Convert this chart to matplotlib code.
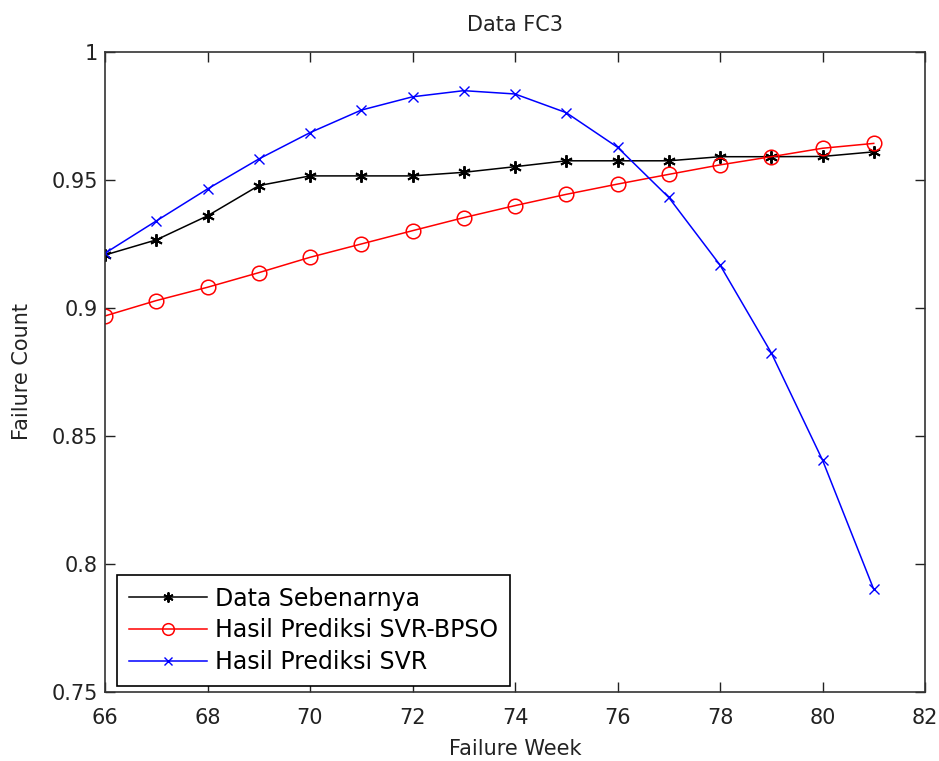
import matplotlib
matplotlib.use("Agg")
import matplotlib.pyplot as plt

weeks = [66, 67, 68, 69, 70, 71, 72, 73, 74, 75, 76, 77, 78, 79, 80, 81]
actual = [0.9207, 0.9266, 0.9360, 0.9478, 0.9516, 0.9516, 0.9516, 0.9530, 0.9552,
          0.9575, 0.9575, 0.9575, 0.9591, 0.9591, 0.9592, 0.9610]
svr_bpso = [0.8969, 0.9029, 0.9081, 0.9138, 0.9198, 0.9250, 0.9302, 0.9353, 0.9400,
            0.9444, 0.9484, 0.9522, 0.9559, 0.9591, 0.9624, 0.9643]
svr = [0.9214, 0.9340, 0.9465, 0.9582, 0.9685, 0.9773, 0.9825, 0.9849, 0.9836,
       0.9763, 0.9628, 0.9432, 0.9168, 0.8825, 0.8406, 0.7901]

labels = ["Data Sebenarnya", "Hasil Prediksi SVR-BPSO", "Hasil Prediksi SVR"]
xticks = [66, 68, 70, 72, 74, 76, 78, 80, 82]
yticks = [0.75, 0.8, 0.85, 0.9, 0.95, 1.0]
yticklabels = ["0.75", "0.8", "0.85", "0.9", "0.95", "1"]

plt.rcParams['font.family'] = ['DejaVu Sans']
fs = 15

fig = plt.figure(figsize=(9.39, 7.61), dpi=100)
ax = fig.add_axes([105/939, 1-692/761, 820/939, 640/761])

ax.plot(weeks, actual, color='black', lw=1.1, marker=(6, 2, 0), markersize=9,
        markeredgewidth=1.4, label=labels[0])
ax.plot(weeks, svr_bpso, color='red', lw=1.1, marker='o', markersize=10.5,
        markerfacecolor='none', markeredgewidth=1.1, label=labels[1])
ax.plot(weeks, svr, color='blue', lw=1.1, marker='x', markersize=6.5,
        markeredgewidth=1.0, label=labels[2])

ax.set_xlim(66, 82)
ax.set_ylim(0.75, 1.0)
ax.set_xticks(xticks)
ax.set_xticklabels([str(t) for t in xticks], fontsize=fs)
ax.set_yticks(yticks)
ax.set_yticklabels(yticklabels, fontsize=fs)
ax.tick_params(direction='in', length=7, width=1.0, top=True, right=True,
               colors='#222222', labelcolor='#222222', pad=5)
ax.tick_params(axis='x', pad=11.5)
for s in ax.spines.values():
    s.set_color('#333333')
    s.set_linewidth(1.2)

ax.set_title("Data FC3", fontsize=fs, color='#222222', pad=15)
ax.set_xlabel("Failure Week", fontsize=fs, color='#222222', labelpad=8)
ax.set_ylabel("Failure Count", fontsize=fs, color='#222222', labelpad=14)

leg = ax.legend(loc='lower left', bbox_to_anchor=(12/820, 6/640), borderaxespad=0,
                fontsize=17, handlelength=3.3, frameon=True, fancybox=False,
                edgecolor='black', framealpha=1, borderpad=0.5, labelspacing=0.33,
                handletextpad=0.35, markerscale=0.8)
leg.get_frame().set_linewidth(1.2)

fig.savefig("out.png", dpi=100)
